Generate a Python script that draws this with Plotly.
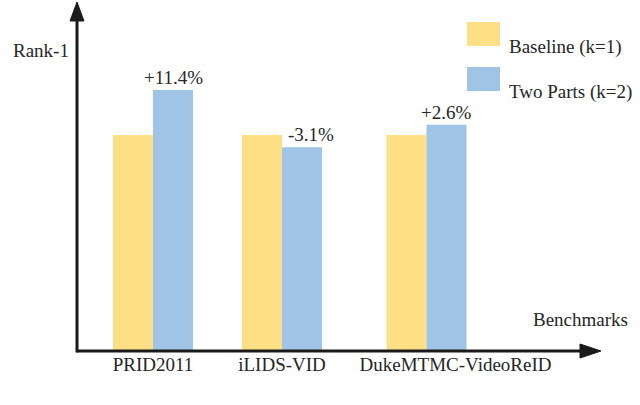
import plotly.graph_objects as go

# Rank-1 (baseline normalised to 100) for each benchmark
benchmarks = ["PRID2011", "iLIDS-VID", "DukeMTMC-VideoReID"]
baseline = [100, 100, 100]
two_parts = [111.4, 96.9, 102.6]
gain_labels = ["+11.4%", "-3.1%", "+2.6%"]
series_names = ["Baseline (k=1)", "Two Parts (k=2)"]

# where each benchmark group sits on the x axis, and where its label sits (layout only)
group_x = [0, 1, 2.12]
label_x = [0, 1, 2.345]

YELLOW = "#FDDF86"
BLUE = "#9FC4E5"
INK = "#1a1a1a"
FONT = dict(family="Liberation Serif, Times New Roman, serif", size=19, color="#262626")

# plot area in pixels: x 77..600, y 3..351
L, R, T, B = 77, 40, 3, 54
W, H = 640, 405
pw, ph = W - L - R, H - T - B


def px(x):
    return (x - L) / pw


def py(y):
    return (H - B - y) / ph


fig = go.Figure()
fig.add_trace(go.Bar(x=group_x, y=baseline, name=series_names[0],
                     marker=dict(color=YELLOW, line=dict(width=0))))
fig.add_trace(go.Bar(x=group_x, y=two_parts, name=series_names[1],
                     marker=dict(color=BLUE, line=dict(width=0))))

# percentage change above each "two parts" bar
shifts = [0, 9, 0]
for gx, val, lab, sh in zip(group_x, two_parts, gain_labels, shifts):
    fig.add_annotation(x=gx + 0.155, y=val, text=lab, showarrow=False,
                       xref="x", yref="y", yanchor="bottom", xshift=sh,
                       font=FONT)

shapes = []
# y axis with arrow
shapes.append(dict(type="line", xref="paper", yref="paper", x0=0, x1=0, y0=-0.004, y1=0.96,
                   line=dict(color=INK, width=3)))
shapes.append(dict(type="path", xref="paper", yref="paper",
                   path=f"M {px(70)} {py(21)} L {px(77)} {py(2)} L {px(84)} {py(21)} Z",
                   fillcolor=INK, line=dict(color=INK, width=1)))
# x axis with arrow
shapes.append(dict(type="line", xref="paper", yref="paper", x0=0, x1=0.97, y0=0, y1=0,
                   line=dict(color=INK, width=3)))
shapes.append(dict(type="path", xref="paper", yref="paper",
                   path=f"M {px(580)} {py(344)} L {px(601)} {py(351)} L {px(580)} {py(358)} Z",
                   fillcolor=INK, line=dict(color=INK, width=1)))
# hand-drawn legend swatches
shapes.append(dict(type="rect", xref="paper", yref="paper",
                   x0=px(467), x1=px(500), y0=py(46), y1=py(22),
                   fillcolor=YELLOW, line=dict(width=0)))
shapes.append(dict(type="rect", xref="paper", yref="paper",
                   x0=px(467), x1=px(500), y0=py(91), y1=py(67),
                   fillcolor=BLUE, line=dict(width=0)))

fig.add_annotation(x=px(507), y=py(34), xref="paper", yref="paper", text=series_names[0],
                   showarrow=False, xanchor="left", font=FONT)
fig.add_annotation(x=px(507), y=py(79), xref="paper", yref="paper", text=series_names[1],
                   showarrow=False, xanchor="left", font=FONT)
fig.add_annotation(x=px(71), y=py(38), xref="paper", yref="paper", text="Rank-1",
                   showarrow=False, xanchor="right", font=FONT)
fig.add_annotation(x=px(531), y=py(332), xref="paper", yref="paper", text="Benchmarks",
                   showarrow=False, xanchor="left", font=FONT)

fig.update_layout(
    width=W, height=H,
    margin=dict(l=L, r=R, t=T, b=B),
    paper_bgcolor="white", plot_bgcolor="white",
    barmode="group", bargap=0.38, bargroupgap=0,
    showlegend=False,
    font=FONT,
    shapes=shapes,
    xaxis=dict(range=[-(153 - L) / 129, (600 - 153) / 129],
               tickmode="array", tickvals=label_x, ticktext=benchmarks,
               showgrid=False, zeroline=False, showline=False, ticks="",
               tickfont=FONT, fixedrange=True),
    yaxis=dict(range=[45.3, 133.4], showgrid=False, zeroline=False, showline=False,
               showticklabels=False, ticks="", fixedrange=True),
)

# drop the browser's default page margin so the chart sits at (0, 0)
fig.write_html("out.html", config=dict(displayModeBar=False),
               post_script="document.body.style.margin='0';document.body.style.overflow='hidden';")
